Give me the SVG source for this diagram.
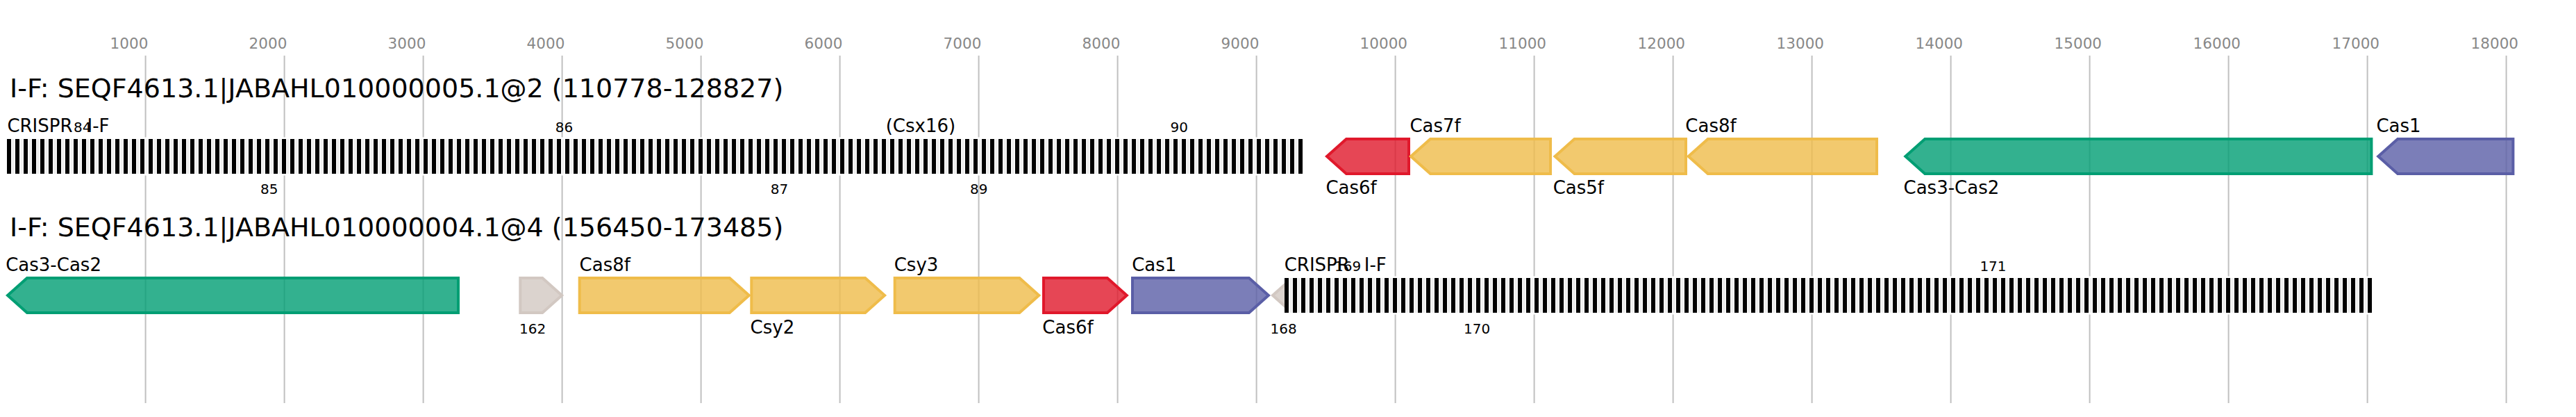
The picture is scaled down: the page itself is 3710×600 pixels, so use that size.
<svg xmlns="http://www.w3.org/2000/svg" width="3710" height="600" viewBox="0 0 3710 600">
<style>
text{font-family:"DejaVu Sans","Liberation Sans",sans-serif}
.ttl{font-size:38px;fill:#000}
.ax{font-size:21.5px;fill:#888}
.lbl{font-size:26px;fill:#000}
.num{font-size:20px;fill:#000}
.grid line{stroke:#c0c0c0;stroke-width:2}
.g{stroke-width:4;fill-opacity:.8;stroke-linejoin:miter}
.red{fill:#e0182b;stroke:#e0182b}
.yel{fill:#efbc4a;stroke:#efbc4a}
.grn{fill:#009e73;stroke:#009e73}
.blu{fill:#5a5ea6;stroke:#5a5ea6}
.gry{fill:#d2c8c2;stroke:#d2c8c2}
</style>
<defs>
<pattern id="arrA" patternUnits="userSpaceOnUse" x="10" y="200" width="12" height="50">
<rect width="12" height="50" fill="#fff"/><rect width="6" height="50" fill="#000"/><rect x="7" width="4" height="50" fill="#efefef"/>
</pattern>
<pattern id="arrB" patternUnits="userSpaceOnUse" x="1850" y="400" width="12" height="50">
<rect width="12" height="50" fill="#fff"/><rect width="6" height="50" fill="#000"/><rect x="7" width="4" height="50" fill="#efefef"/>
</pattern>
</defs>
<rect width="3710" height="600" fill="#fff"/>
<g id="axis">
<g class="grid">
<line x1="209.6" y1="80" x2="209.6" y2="580"/><line x1="409.6" y1="80" x2="409.6" y2="580"/><line x1="609.6" y1="80" x2="609.6" y2="580"/><line x1="809.6" y1="80" x2="809.6" y2="580"/><line x1="1009.6" y1="80" x2="1009.6" y2="580"/><line x1="1209.6" y1="80" x2="1209.6" y2="580"/><line x1="1409.6" y1="80" x2="1409.6" y2="580"/><line x1="1609.6" y1="80" x2="1609.6" y2="580"/><line x1="1809.6" y1="80" x2="1809.6" y2="580"/><line x1="2009.6" y1="80" x2="2009.6" y2="580"/><line x1="2209.6" y1="80" x2="2209.6" y2="580"/><line x1="2409.6" y1="80" x2="2409.6" y2="580"/><line x1="2609.6" y1="80" x2="2609.6" y2="580"/><line x1="2809.6" y1="80" x2="2809.6" y2="580"/><line x1="3009.6" y1="80" x2="3009.6" y2="580"/><line x1="3209.6" y1="80" x2="3209.6" y2="580"/><line x1="3409.6" y1="80" x2="3409.6" y2="580"/><line x1="3609.6" y1="80" x2="3609.6" y2="580"/>
</g>
<g class="ax">
<text x="158.6" y="70">1000</text><text x="358.6" y="70">2000</text><text x="558.6" y="70">3000</text><text x="758.6" y="70">4000</text><text x="958.6" y="70">5000</text><text x="1158.6" y="70">6000</text><text x="1358.6" y="70">7000</text><text x="1558.6" y="70">8000</text><text x="1758.6" y="70">9000</text><text x="1958.6" y="70">10000</text><text x="2158.6" y="70">11000</text><text x="2358.6" y="70">12000</text><text x="2558.6" y="70">13000</text><text x="2758.6" y="70">14000</text><text x="2958.6" y="70">15000</text><text x="3158.6" y="70">16000</text><text x="3358.6" y="70">17000</text><text x="3558.6" y="70">18000</text>
</g>
</g>
<g id="track1">
<text class="ttl" x="14" y="140">I-F: SEQF4613.1|JABAHL010000005.1@2 (110778-128827)</text>
<g id="crispr1">
<rect x="10" y="197.5" width="1866" height="55" fill="#fff"/>
<rect x="10" y="200" width="1866" height="50" fill="url(#arrA)"/>
<text class="lbl" x="10.4" y="189.5">CRISPR <tspan dx="12.7">I-F</tspan></text>
</g>
<g id="g84"><text class="num" x="106" y="189.5">84</text></g>
<g id="g85"><text class="num" x="375" y="279">85</text></g>
<g id="g86"><text class="num" x="799.7" y="189.5">86</text></g>
<g id="g87"><text class="num" x="1109.7" y="279">87</text></g>
<g id="csx16"><text class="lbl" x="1275.7" y="189.5">(Csx16)</text></g>
<g id="g89"><text class="num" x="1397" y="279">89</text></g>
<g id="g90"><text class="num" x="1685.5" y="189.5">90</text></g>
<g id="cas6f_1"><path class="g red" d="M2029,200 L1939,200 L1911,225 L1939,250 L2029,250 Z"/><text class="lbl" x="1909.4" y="279">Cas6f</text></g>
<g id="cas7f_1"><path class="g yel" d="M2233,200 L2060,200 L2032,225 L2060,250 L2233,250 Z"/><text class="lbl" x="2030.4" y="189.5">Cas7f</text></g>
<g id="cas5f_1"><path class="g yel" d="M2428,200 L2267.5,200 L2239.5,225 L2267.5,250 L2428,250 Z"/><text class="lbl" x="2236.7" y="279">Cas5f</text></g>
<g id="cas8f_1"><path class="g yel" d="M2703,200 L2459.7,200 L2431.7,225 L2459.7,250 L2703,250 Z"/><text class="lbl" x="2427.3" y="189.5">Cas8f</text></g>
<g id="cas3_1"><path class="g grn" d="M3415.4,200 L2772.3,200 L2744.3,225 L2772.3,250 L3415.4,250 Z"/><text class="lbl" x="2741.5" y="279">Cas3-Cas2</text></g>
<g id="cas1_1"><path class="g blu" d="M3619.4,200 L3453.2,200 L3425.2,225 L3453.2,250 L3619.4,250 Z"/><text class="lbl" x="3422.4" y="189.5">Cas1</text></g>
</g>
<g id="track2">
<text class="ttl" x="14" y="340">I-F: SEQF4613.1|JABAHL010000004.1@4 (156450-173485)</text>
<g id="cas3_2"><path class="g grn" d="M660,400 L39,400 L11,425 L39,450 L660,450 Z"/><text class="lbl" x="8.2" y="389.5">Cas3-Cas2</text></g>
<g id="g162"><path class="g gry" d="M749.3,400 L781.2,400 L809.2,425 L781.2,450 L749.3,450 Z"/><text class="num" x="748" y="479.5">162</text></g>
<g id="cas8f_2"><path class="g yel" d="M834.7,400 L1050.8,400 L1078.8,425 L1050.8,450 L834.7,450 Z"/><text class="lbl" x="834.6" y="389.5">Cas8f</text></g>
<g id="csy2"><path class="g yel" d="M1082.3,400 L1246.1,400 L1274.1,425 L1246.1,450 L1082.3,450 Z"/><text class="lbl" x="1080.6" y="479.5">Csy2</text></g>
<g id="csy3"><path class="g yel" d="M1288.7,400 L1468.3,400 L1496.3,425 L1468.3,450 L1288.7,450 Z"/><text class="lbl" x="1287.7" y="389.5">Csy3</text></g>
<g id="cas6f_2"><path class="g red" d="M1503,400 L1594.8,400 L1622.8,425 L1594.8,450 L1503,450 Z"/><text class="lbl" x="1501.3" y="479.5">Cas6f</text></g>
<g id="cas1_2"><path class="g blu" d="M1631,400 L1798.9,400 L1826.9,425 L1798.9,450 L1631,450 Z"/><text class="lbl" x="1630.2" y="389.5">Cas1</text></g>
<g id="g168"><path class="g gry" d="M1900,400 L1861,400 L1833,425 L1861,450 L1900,450 Z"/><text class="num" x="1829.5" y="479.5">168</text></g>
<g id="crispr2">
<rect x="1850" y="397.5" width="1566" height="55" fill="#fff"/>
<rect x="1850" y="400" width="1566" height="50" fill="url(#arrB)"/>
<text class="lbl" x="1849.7" y="389.5">CRISPR <tspan dx="12.7">I-F</tspan></text>
</g>
<g id="g169"><text class="num" x="1922" y="389.5">169</text></g>
<g id="g170"><text class="num" x="2108" y="479.5">170</text></g>
<g id="g171"><text class="num" x="2851.4" y="389.5">171</text></g>
</g>
<g id="connectors"/>
</svg>
